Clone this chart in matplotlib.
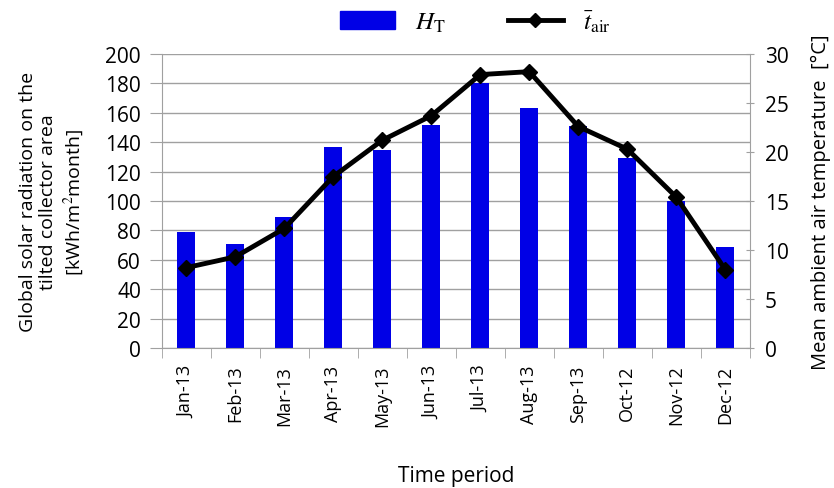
import matplotlib
matplotlib.use("Agg")
import matplotlib.pyplot as plt
from matplotlib.lines import Line2D
from matplotlib.patches import Patch
import numpy as np

months = ["Jan-13", "Feb-13", "Mar-13", "Apr-13", "May-13", "Jun-13",
          "Jul-13", "Aug-13", "Sep-13", "Oct-12", "Nov-12", "Dec-12"]
radiation = [79, 71, 89, 137, 135, 152, 180, 163, 151, 129, 100, 69]
temperature = [8.2, 9.3, 12.2, 17.5, 21.2, 23.7, 27.9, 28.2, 22.6, 20.3, 15.4, 8.0]

plt.rcParams['font.family'] = ['Open Sans', 'DejaVu Sans']
plt.rcParams['mathtext.fontset'] = 'stix'

GRID = '#a0a0a0'
fig = plt.figure(figsize=(8.34, 4.89), dpi=100)
ax = fig.add_axes([0.194, 0.2863, 0.705, 0.6012])
x = np.arange(len(months))
ax.bar(x, radiation, width=0.37, color='#0000E6', zorder=2)
ax.set_ylim(0, 200)
ax.set_xlim(-0.5, len(months) - 0.5)
ax.set_yticks(np.arange(0, 201, 20))
ax.yaxis.grid(True, color=GRID, linewidth=1.0, zorder=0)
ax.set_axisbelow(True)
ax.set_xticks(x)
ax.set_xticklabels(months, rotation=90, fontsize=13)
ax.tick_params(axis='x', length=0, pad=12)
ax.set_xticks(np.arange(-0.5, len(months), 1), minor=True)
ax.tick_params(axis='x', which='minor', length=7, color=GRID)
ax.tick_params(axis='y', length=9, color=GRID, labelsize=15, pad=6)
for s in ['top', 'right']:
    ax.spines[s].set_visible(False)
ax.spines['bottom'].set_color(GRID)
ax.spines['left'].set_color(GRID)
ax.set_ylabel("Global solar radiation on the\ntilted collector area\n[kWh/m$^2$month]",
              fontsize=14, linespacing=1.2, labelpad=14)
ax.set_xlabel("Time period", fontsize=15, labelpad=28)

ax2 = ax.twinx()
ax2.plot(x, temperature, color='black', linewidth=3.5, marker='D', markersize=8, zorder=3)
ax2.set_ylim(0, 30)
ax2.set_yticks(np.arange(0, 31, 5))
ax2.tick_params(axis='y', labelsize=15, length=6, color=GRID, direction='inout', pad=8)
for s in ['top', 'left', 'bottom']:
    ax2.spines[s].set_visible(False)
ax2.spines['right'].set_color(GRID)
ax2.set_ylabel("Mean ambient air temperature  [°C]", fontsize=14.5, labelpad=16)

handles = [Patch(facecolor='#0000E6', edgecolor='#0000E6'),
           Line2D([0], [0], color='black', linewidth=3.5, marker='D', markersize=7)]
labels = [r"$H_\mathrm{T}$", r"$\bar{t}_\mathrm{air}$"]
fig.legend(handles, labels, loc='upper center', bbox_to_anchor=(0.57, 1.025), ncol=2,
           frameon=False, fontsize=18, handlelength=2.2, columnspacing=2.5)

fig.savefig("out.png", dpi=100)
